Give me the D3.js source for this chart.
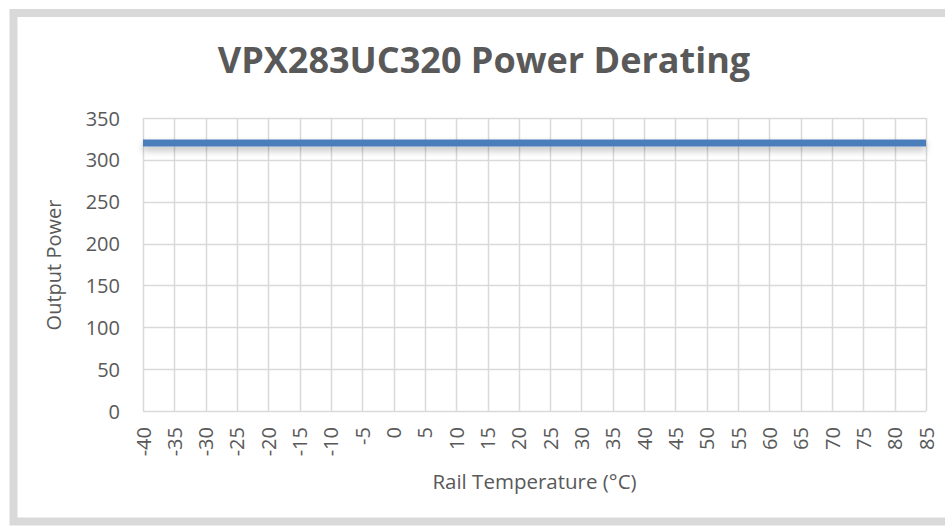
<!DOCTYPE html>
<html>
<head>
<meta charset="utf-8">
<script src="https://cdn.jsdelivr.net/npm/d3@7"></script>
<style>
  body { margin: 0; background: #fff; }
  text { font-family: "Open Sans", Lato, sans-serif; fill: #595959; }
</style>
</head>
<body>
<div id="chart"></div>
<script>
// chart data
var temps = [-40, -35, -30, -25, -20, -15, -10, -5, 0, 5, 10, 15, 20, 25, 30, 35, 40, 45, 50, 55, 60, 65, 70, 75, 80, 85];
var power = [320, 320, 320, 320, 320, 320, 320, 320, 320, 320, 320, 320, 320, 320, 320, 320, 320, 320, 320, 320, 320, 320, 320, 320, 320, 320];
var yTicks = [0, 50, 100, 150, 200, 250, 300, 350];

var W = 945, H = 527;
var M = { left: 143, right: 926, top: 118, bottom: 411 };
var FONT = "'Open Sans', Lato, sans-serif";

var svg = d3.select("#chart").append("svg")
  .attr("width", W)
  .attr("height", H);

// frame
svg.append("rect")
  .attr("x", 13.5).attr("y", 13)
  .attr("width", W).attr("height", 508.5)
  .attr("fill", "#fff")
  .attr("stroke", "#d9d9d9")
  .attr("stroke-width", 8);

// soft shadow under the series line
var f = svg.append("defs").append("filter").attr("id", "shadow")
  .attr("filterUnits", "userSpaceOnUse")
  .attr("x", 0).attr("y", 0).attr("width", W).attr("height", H);
f.append("feDropShadow")
  .attr("dx", 0).attr("dy", 4)
  .attr("stdDeviation", 3.5)
  .attr("flood-color", "#000")
  .attr("flood-opacity", 0.25);

var x = d3.scaleLinear().domain([-40, 85]).range([M.left, M.right]);
var y = d3.scaleLinear().domain([0, 350]).range([M.bottom, M.top]);

// gridlines
svg.append("g")
  .selectAll("line")
  .data(yTicks)
  .enter().append("line")
  .attr("x1", M.left).attr("x2", M.right)
  .attr("y1", function(d){ return Math.round(y(d)) + 0.5; })
  .attr("y2", function(d){ return Math.round(y(d)) + 0.5; })
  .attr("stroke", "#d9d9d9")
  .attr("stroke-width", 1.5);

svg.append("g")
  .selectAll("line")
  .data(temps)
  .enter().append("line")
  .attr("x1", function(d){ return Math.round(x(d)) + 0.5; })
  .attr("x2", function(d){ return Math.round(x(d)) + 0.5; })
  .attr("y1", M.top).attr("y2", M.bottom)
  .attr("stroke", "#d9d9d9")
  .attr("stroke-width", 1.5);

// y axis labels
var yAxis = d3.axisLeft(y).tickValues(yTicks).tickSize(0).tickPadding(0);
var gy = svg.append("g")
  .attr("transform", "translate(120,0)")
  .call(yAxis);
gy.select(".domain").remove();
gy.selectAll("text")
  .attr("font-size", 20)
  .attr("font-family", FONT)
  .attr("fill", "#595959")
  .attr("dy", "0.35em");

// x axis labels, rotated
var xAxis = d3.axisBottom(x).tickValues(temps).tickSize(0).tickPadding(0);
var gx = svg.append("g")
  .attr("transform", "translate(0,418)")
  .call(xAxis);
gx.select(".domain").remove();
gx.selectAll("text")
  .attr("font-size", 20)
  .attr("font-family", FONT)
  .attr("fill", "#595959")
  .attr("text-anchor", "end")
  .attr("transform", "rotate(-90)")
  .attr("x", -9)
  .attr("y", 0)
  .attr("dy", "0.35em")
  .text(function(d){ return String(d); });

// series line
var line = d3.line()
  .x(function(d, i){ return x(temps[i]); })
  .y(function(d){ return y(d); });

svg.append("path")
  .datum(power)
  .attr("d", line)
  .attr("fill", "none")
  .attr("stroke", "#4a7ebb")
  .attr("stroke-width", 7)
  .attr("filter", "url(#shadow)");

// titles
svg.append("text")
  .attr("x", 484).attr("y", 73)
  .attr("text-anchor", "middle")
  .attr("font-size", 36)
  .attr("font-weight", "bold")
  .text("VPX283UC320 Power Derating");

svg.append("text")
  .attr("x", (M.left + M.right) / 2).attr("y", 489)
  .attr("text-anchor", "middle")
  .attr("font-size", 20.5)
  .text("Rail Temperature (°C)");

svg.append("text")
  .attr("transform", "translate(61,265) rotate(-90)")
  .attr("text-anchor", "middle")
  .attr("font-size", 20)
  .text("Output Power");
</script>
</body>
</html>
